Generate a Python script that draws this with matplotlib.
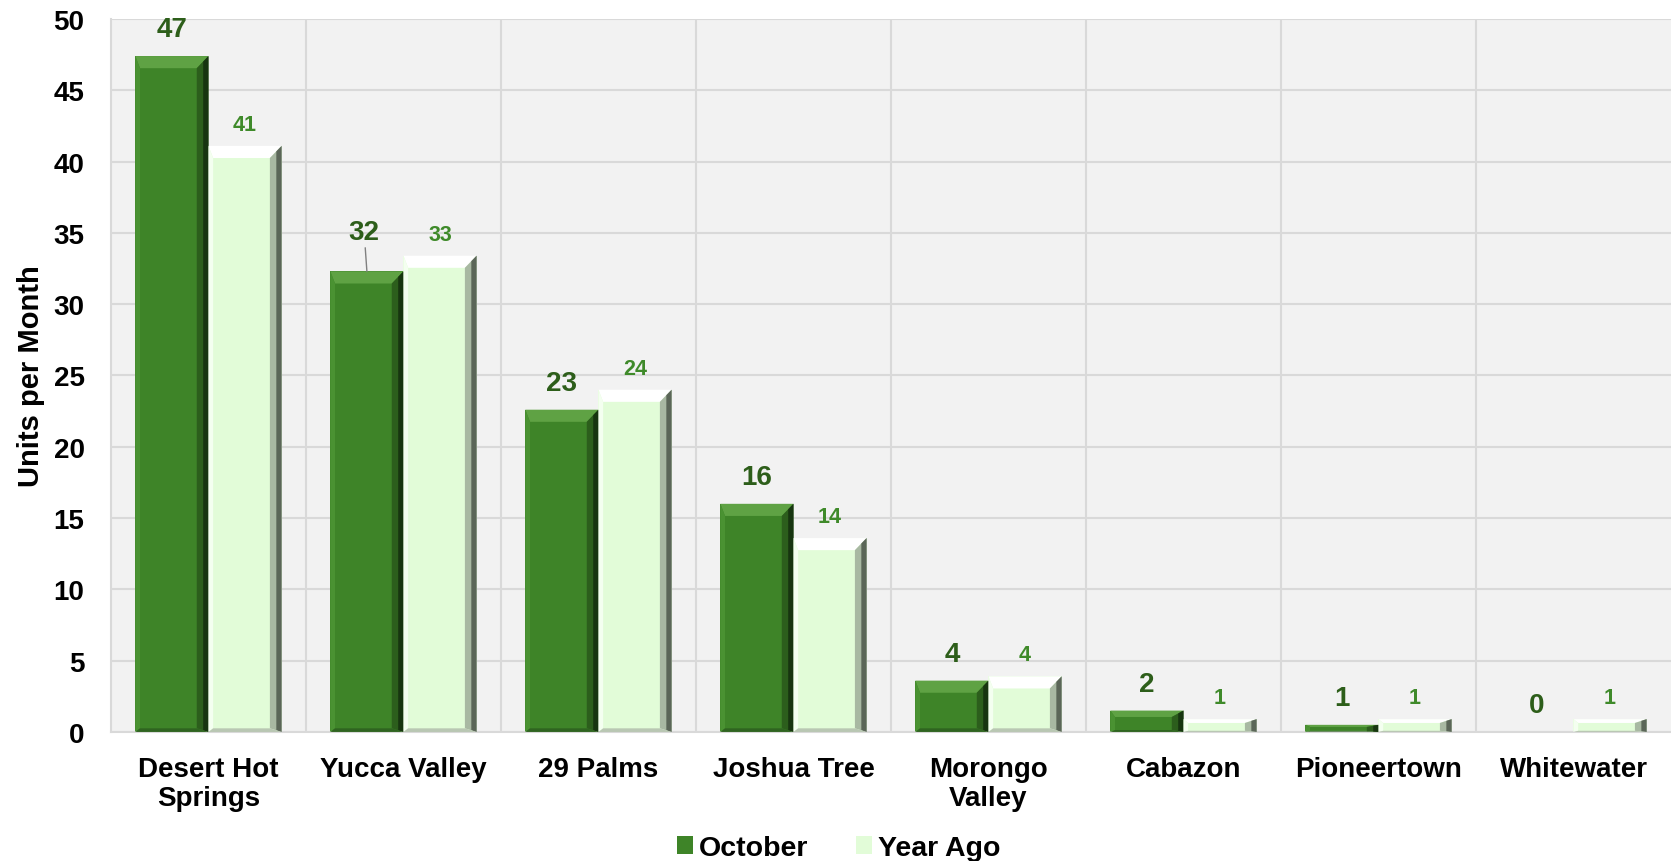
import matplotlib.pyplot as plt
from matplotlib.patches import Polygon
import numpy as np

plt.rcParams['font.family'] = ['Liberation Sans', 'DejaVu Sans']
plt.rcParams['font.weight'] = 'bold'
plt.rcParams['axes.labelweight'] = 'bold'

# dados
cidades = ['Desert Hot\nSprings', 'Yucca Valley', '29 Palms', 'Joshua Tree',
           'Morongo\nValley', 'Cabazon', 'Pioneertown', 'Whitewater']
outubro = [47.4, 32.3, 22.6, 16.0, 3.6, 1.5, 0.5, 0.0]
ano_passado = [41.1, 33.4, 24.0, 13.6, 3.9, 0.9, 0.9, 0.9]
rot_outubro = ['47', '32', '23', '16', '4', '2', '1', '0']
rot_ano = ['41', '33', '24', '14', '4', '1', '1', '1']


def poly(ax, pts, cor, alpha=1):
    ax.add_patch(Polygon(pts, closed=True, color=cor, alpha=alpha, lw=0, zorder=3))


def bisel(ax, bar, cores):
    # relevo tipo excel por cima de cada barra
    claro, topo, escuro, medio, base = cores
    x0, y0 = bar.get_x(), bar.get_y()
    w, h = bar.get_width(), bar.get_height()
    if h <= 0:
        return
    by = min(0.85, h * 0.3)
    bx = 0.06
    x1, y1 = x0 + w, y0 + h
    # topo
    poly(ax, [(x0, y1), (x1, y1), (x1 - bx, y1 - by), (x0 + bx * 0.4, y1 - by)], topo)
    # lado direito (duas faixas para imitar o gradiente)
    poly(ax, [(x1, y1), (x1, y0), (x1 - bx, y0 + by * 0.3), (x1 - bx, y1 - by)], medio)
    poly(ax, [(x1, y1), (x1, y0), (x1 - bx * 0.45, y0 + by * 0.15), (x1 - bx * 0.45, y1 - by * 0.45)], escuro)
    # lado esquerdo
    poly(ax, [(x0, y1), (x0, y0), (x0 + bx * 0.4, y0 + by * 0.3), (x0 + bx * 0.4, y1 - by)], claro)
    # base
    poly(ax, [(x0, y0), (x1, y0), (x1 - bx, y0 + by * 0.3), (x0 + bx * 0.4, y0 + by * 0.3)], base)


fig = plt.figure(figsize=(16.71, 8.62), dpi=100)
ax = fig.add_axes([0.0664, 0.1497, 0.9336, 0.8271])
ax.set_facecolor('#f2f2f2')

x = np.arange(len(cidades))
w = 0.375
b1 = ax.bar(x - w / 2, outubro, w, color='#3e8428', zorder=2, label='October')
b2 = ax.bar(x + w / 2, ano_passado, w, color='#e2fcd8', zorder=2, label='Year Ago')

for b in b1:
    bisel(ax, b, ('#4a9232', '#5fa244', '#173510', '#2c5e1c', '#2f6420'))
for b in b2:
    bisel(ax, b, ('#f4fff0', '#ffffff', '#5b6658', '#a8b8a2', '#b9c7b3'))

for b, t in zip(b1, rot_outubro):
    cx = b.get_x() + b.get_width() / 2
    if t == '32':
        ax.annotate(t, (cx, b.get_height()), xytext=(-2, 19), textcoords='offset points',
                    ha='center', va='bottom', fontsize=20, color='#2d5e1a',
                    arrowprops=dict(arrowstyle='-', color='#808080', lw=1, shrinkA=0, shrinkB=0))
    else:
        ax.annotate(t, (cx, b.get_height()), xytext=(0, 10), textcoords='offset points',
                    ha='center', va='bottom', fontsize=20, color='#2d5e1a')
for b, t in zip(b2, rot_ano):
    cx = b.get_x() + b.get_width() / 2
    ax.annotate(t, (cx, b.get_height()), xytext=(0, 8), textcoords='offset points',
                ha='center', va='bottom', fontsize=15.5, color='#3f8a2a')

ax.set_xlim(-0.5, len(cidades) - 0.5)
ax.set_ylim(0, 50)
ax.set_yticks(range(0, 51, 5))
ax.set_xticks(x)
ax.set_xticklabels(cidades, fontsize=20, linespacing=1.15)
ax.set_xticks(x[:-1] + 0.5, minor=True)
ax.tick_params(axis='y', labelsize=20, length=0, pad=19)
ax.tick_params(axis='x', which='both', length=0, pad=17)
ax.grid(axis='y', which='major', color='#d9d9d9', lw=1.5, zorder=0)
ax.grid(axis='x', which='minor', color='#d9d9d9', lw=1.5, zorder=0)
for s in ax.spines.values():
    s.set_color('#d9d9d9')
    s.set_linewidth(1.5)
ax.spines['top'].set_visible(False)
ax.spines['right'].set_visible(False)

ax.set_ylabel('Units per Month', fontsize=21)
ax.yaxis.set_label_coords(-0.042, 0.5)

leg = fig.legend(loc='center', bbox_to_anchor=(0.502, 0.015), ncol=2, frameon=False,
                 fontsize=20.5, handlelength=0.55, handleheight=0.55, handletextpad=0.2,
                 columnspacing=1.7)

fig.savefig('out.png', dpi=100)
